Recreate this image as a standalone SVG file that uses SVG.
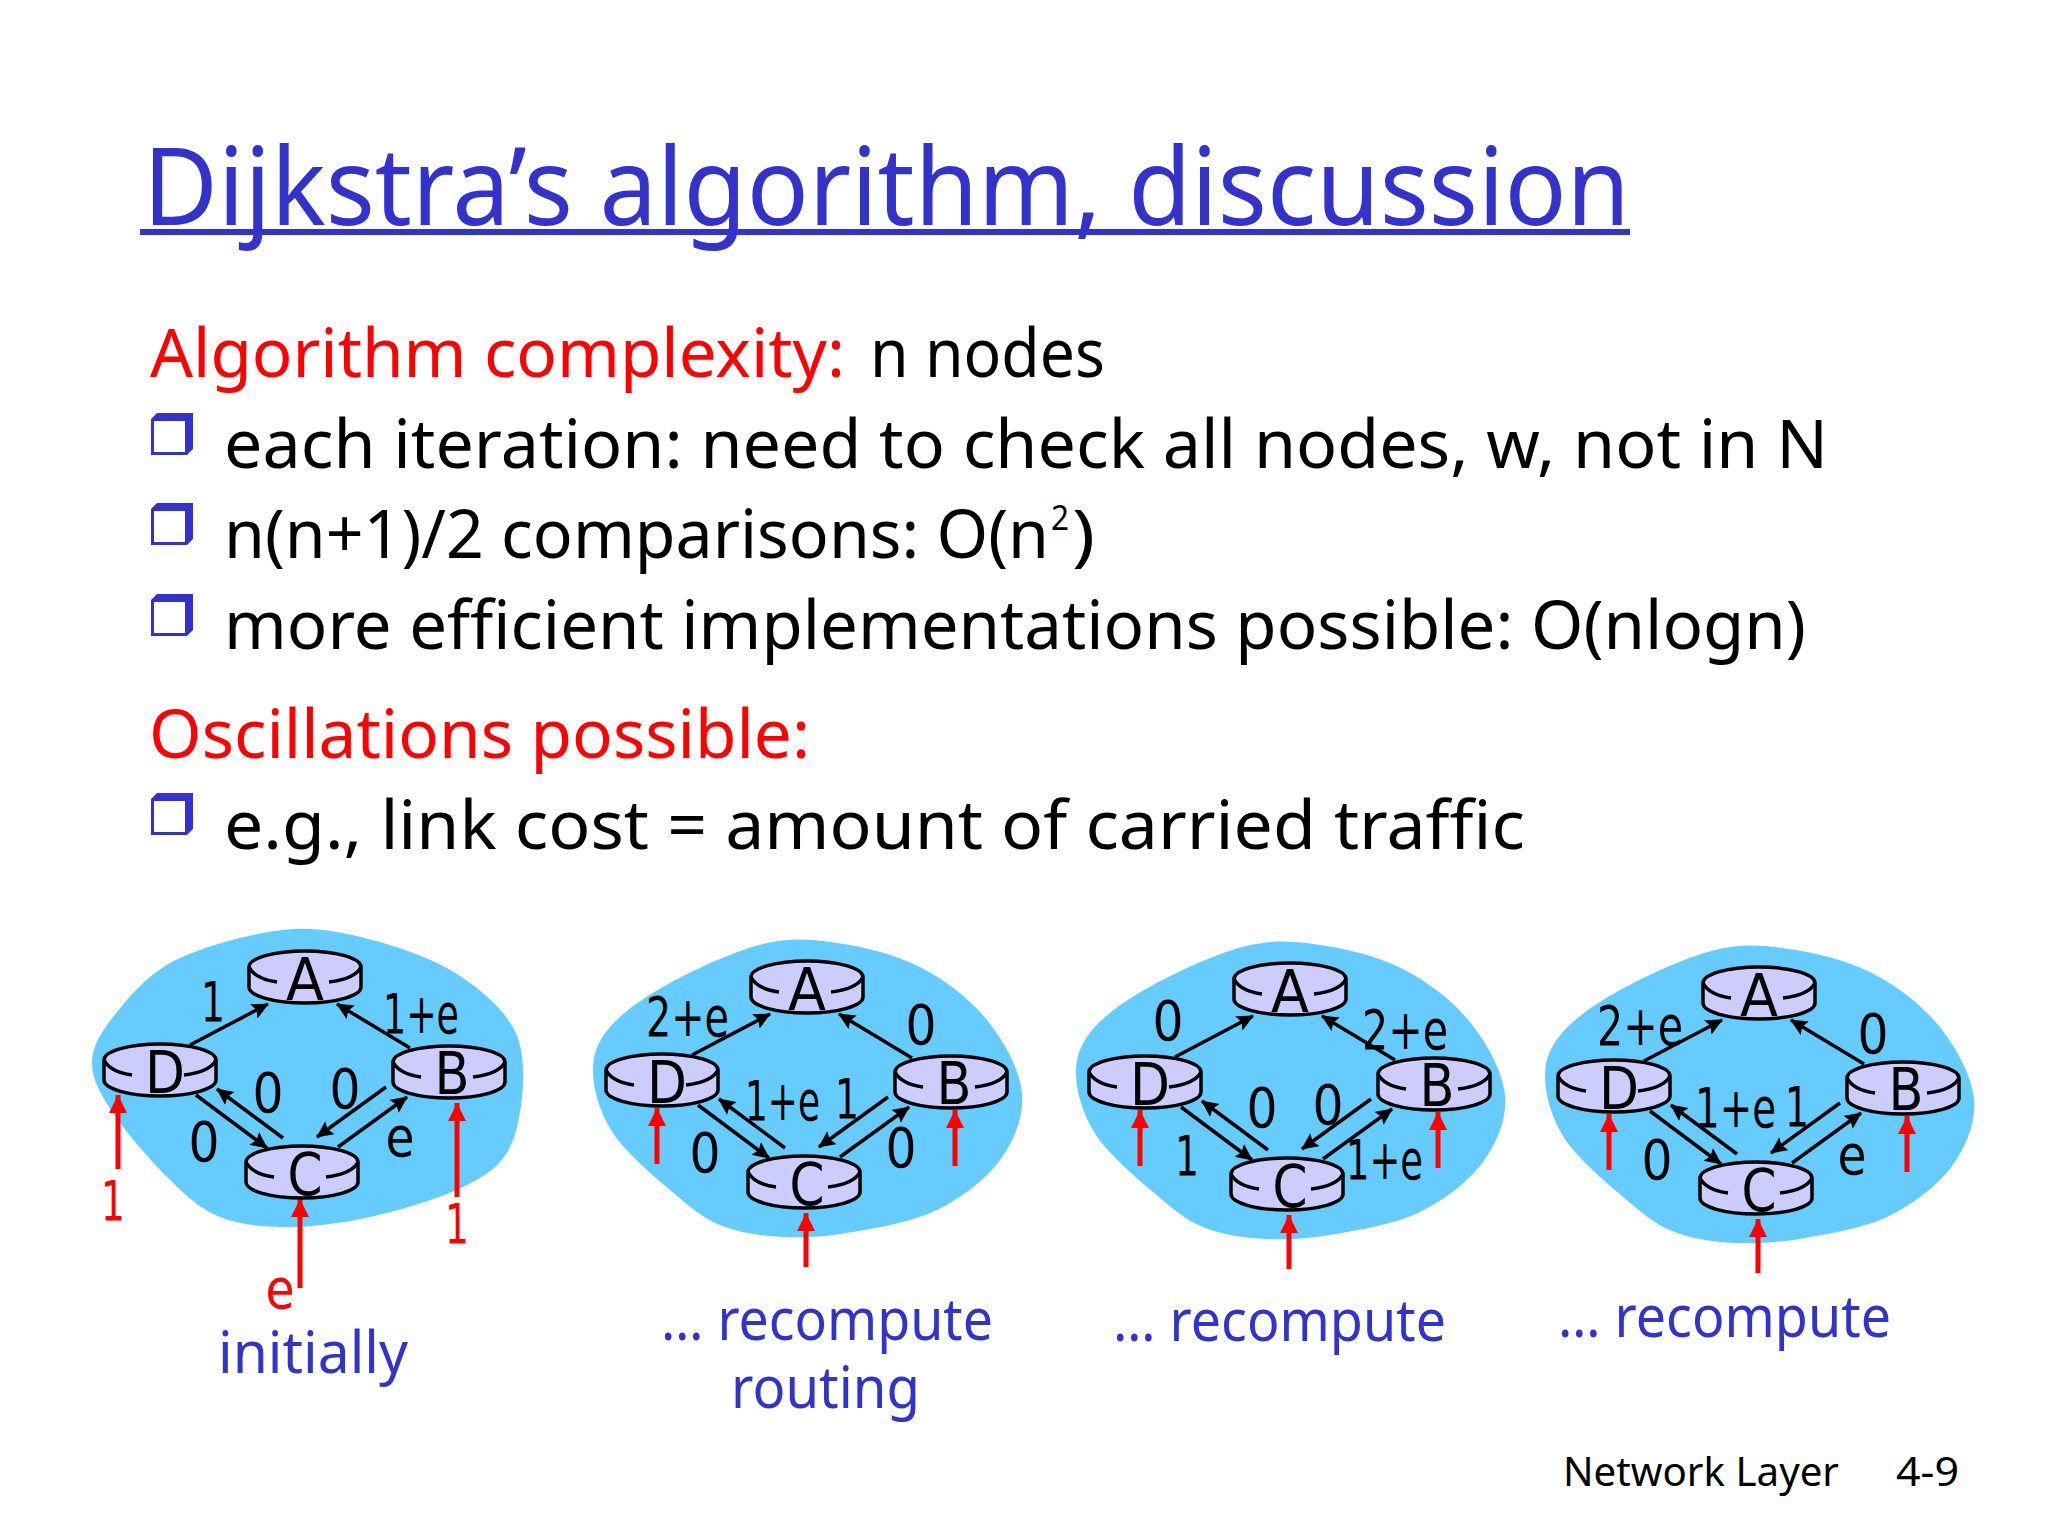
<svg xmlns="http://www.w3.org/2000/svg" width="2048" height="1536" viewBox="0 0 2048 1536">
<style>
text{font-family:"Noto Sans","Open Sans",sans-serif;}
.title{font-size:108px;fill:#3333cc;}
.body{font-size:68px;fill:#000;}
.cap{font-size:58px;fill:#3333cc;}
.foot{font-size:40px;fill:#000;}
.let{font-family:"DejaVu Sans",sans-serif;font-size:58px;fill:#000;text-anchor:middle;}
.lab{font-family:"DejaVu Sans",sans-serif;font-size:56px;fill:#000;}
.mid{text-anchor:middle;}
.red{fill:#ff0000;}
.blob{fill:#66ccff;}
.body-fill{fill:#ccccff;stroke:#000;stroke-width:3.5;}
.edge{stroke:#000;stroke-width:3.5;fill:none;marker-end:url(#ah);}
.req{stroke:#ff0000;stroke-width:5;fill:none;marker-end:url(#rh);}
.bul{fill:#3333cc;}
.buli{fill:#fff;}
</style>
<defs>
<marker id="ah" markerUnits="userSpaceOnUse" markerWidth="20" markerHeight="18" refX="16" refY="8" orient="auto"><path d="M0 0L17 8L0 16L3 8Z" fill="#000"/></marker>
<marker id="rh" markerUnits="userSpaceOnUse" markerWidth="20" markerHeight="20" refX="18" refY="9" orient="auto"><path d="M0 0L18 9L0 18Z" fill="#ff0000"/></marker>
<g id="router">
<path class="body-fill" d="M-56 16V36A56 16 0 0 0 56 36V16A56 16 0 0 0 -56 16Z"/>
<path fill="none" stroke="#000" stroke-width="3.5" d="M-56 16Q-50 28 -28 31M24 31Q50 28 56 16"/>
</g>
<g id="bullet"><path class="bul" d="M6 0H42V36L36 42H0V6Z"/><rect class="buli" x="3" y="8" width="31" height="31"/></g>
<path id="cloudB" class="blob" d="M763 944C790.8 937.3 810.8 939.2 837 943C863.2 946.8 895 954.2 920 967C945 979.8 970 999 987 1020C1004 1041 1019.8 1069.7 1022 1093C1024.2 1116.3 1014.2 1140.5 1000 1160C985.8 1179.5 961.5 1198 937 1210C912.5 1222 878.7 1227.5 853 1232C827.3 1236.5 805.2 1238.2 783 1237C760.8 1235.8 738.8 1232.8 720 1225C701.2 1217.2 687.8 1205.3 670 1190C652.2 1174.7 625.8 1152.5 613 1133C600.2 1113.5 593.5 1090.7 593 1073C592.5 1055.3 597.2 1042 610 1027C622.8 1012 644.5 996.8 670 983C695.5 969.2 735.2 950.7 763 944Z"/>
<g id="linkset">
<line class="edge" x1="190" y1="1045" x2="268" y2="1004"/><line class="edge" x1="410" y1="1048" x2="337" y2="1004"/><line class="edge" x1="283" y1="1138" x2="217" y2="1089"/><line class="edge" x1="196" y1="1095" x2="267" y2="1148"/><line class="edge" x1="386" y1="1087" x2="317" y2="1137"/><line class="edge" x1="338" y1="1147" x2="407" y2="1097"/>
</g>
<g id="reqset">
<line class="req" x1="155" y1="1154" x2="155" y2="1098"/><line class="req" x1="453" y1="1156" x2="453" y2="1100"/><line class="req" x1="304" y1="1257" x2="304" y2="1203"/>
</g>
</defs>
<rect width="2048" height="1536" fill="#fff"/>

<g id="title">
<text class="title" x="143" y="225" textLength="1487" lengthAdjust="spacingAndGlyphs">Dijkstra’s algorithm, discussion</text>
<rect x="140" y="229" width="1490" height="6" fill="#3333cc"/>
</g>
<g id="text-body">
<text class="body red" x="150" y="377" textLength="695" lengthAdjust="spacingAndGlyphs">Algorithm complexity:</text>
<text class="body" x="870" y="377" textLength="235" lengthAdjust="spacingAndGlyphs">n nodes</text>
<use href="#bullet" x="151" y="413"/>
<text class="body" x="224" y="468" textLength="1604" lengthAdjust="spacingAndGlyphs">each iteration: need to check all nodes, w, not in N</text>
<use href="#bullet" x="151" y="503"/>
<text class="body" x="224" y="558" textLength="825" lengthAdjust="spacingAndGlyphs">n(n+1)/2 comparisons: O(n</text>
<text class="body" x="1051" y="530" style="font-size:34px" textLength="18" lengthAdjust="spacingAndGlyphs">2</text>
<text class="body" x="1072" y="558" textLength="23" lengthAdjust="spacingAndGlyphs">)</text>
<use href="#bullet" x="151" y="594"/>
<text class="body" x="224" y="649" textLength="1582" lengthAdjust="spacingAndGlyphs">more efficient implementations possible: O(nlogn)</text>
<text class="body red" x="149" y="758" textLength="661" lengthAdjust="spacingAndGlyphs">Oscillations possible:</text>
<use href="#bullet" x="151" y="793"/>
<text class="body" x="224" y="849" textLength="1301" lengthAdjust="spacingAndGlyphs">e.g., link cost = amount of carried traffic</text>
</g>

<g id="clouds">
<path id="cloud1" class="blob" d="M263 933C290.8 927.8 308 927 337 932C366 937 409.3 949.5 437 963C464.7 976.5 488.7 995.7 503 1013C517.3 1030.3 521.8 1044.7 523 1067C524.2 1089.3 520 1127 510 1147C500 1167 486.3 1175.3 463 1187C439.7 1198.7 399.3 1210.3 370 1217C340.7 1223.7 312 1227 287 1227C262 1227 239.5 1224.8 220 1217C200.5 1209.2 187.8 1197.3 170 1180C152.2 1162.7 126 1132.5 113 1113C100 1093.5 92 1079 92 1063C92 1047 100 1033.7 113 1017C126 1000.3 145 977 170 963C195 949 235.2 938.2 263 933Z"/>
<use id="cloud2" href="#cloudB"/>
<use id="cloud3" href="#cloudB" x="483" y="2"/>
<use id="cloud4" href="#cloudB" x="952" y="6"/>
</g>

<g id="connectors">
<g id="links1">
<use href="#linkset"/>
<line class="req" x1="118" y1="1169" x2="118" y2="1095"/><line class="req" x1="457" y1="1197" x2="457" y2="1103"/><line class="req" x1="300" y1="1288" x2="300" y2="1199"/>
</g>
<g id="links2"><use href="#linkset" x="502" y="10"/><use href="#reqset" x="502" y="10"/></g>
<g id="links3"><use href="#linkset" x="985" y="12"/><use href="#reqset" x="985" y="12"/></g>
<g id="links4"><use href="#linkset" x="1454" y="16"/><use href="#reqset" x="1454" y="16"/></g>
</g>

<g id="A1"><use href="#router" x="305" y="951"/><text class="let" x="305" y="1000" textLength="38" lengthAdjust="spacingAndGlyphs">A</text></g>
<g id="D1"><use href="#router" x="160" y="1044"/><text class="let" x="165" y="1093" textLength="40" lengthAdjust="spacingAndGlyphs">D</text></g>
<g id="B1"><use href="#router" x="449" y="1046"/><text class="let" x="452" y="1094" textLength="35" lengthAdjust="spacingAndGlyphs">B</text></g>
<g id="C1"><use href="#router" x="302" y="1146"/><text class="let" x="305" y="1195" textLength="35" lengthAdjust="spacingAndGlyphs">C</text></g>

<g id="A2"><use href="#router" x="807" y="961"/><text class="let" x="807" y="1010" textLength="38" lengthAdjust="spacingAndGlyphs">A</text></g>
<g id="D2"><use href="#router" x="662" y="1054"/><text class="let" x="667" y="1103" textLength="40" lengthAdjust="spacingAndGlyphs">D</text></g>
<g id="B2"><use href="#router" x="951" y="1056"/><text class="let" x="954" y="1104" textLength="35" lengthAdjust="spacingAndGlyphs">B</text></g>
<g id="C2"><use href="#router" x="804" y="1156"/><text class="let" x="807" y="1205" textLength="35" lengthAdjust="spacingAndGlyphs">C</text></g>

<g id="A3"><use href="#router" x="1290" y="963"/><text class="let" x="1290" y="1012" textLength="38" lengthAdjust="spacingAndGlyphs">A</text></g>
<g id="D3"><use href="#router" x="1145" y="1056"/><text class="let" x="1150" y="1105" textLength="40" lengthAdjust="spacingAndGlyphs">D</text></g>
<g id="B3"><use href="#router" x="1434" y="1058"/><text class="let" x="1437" y="1106" textLength="35" lengthAdjust="spacingAndGlyphs">B</text></g>
<g id="C3"><use href="#router" x="1287" y="1158"/><text class="let" x="1290" y="1207" textLength="35" lengthAdjust="spacingAndGlyphs">C</text></g>

<g id="A4"><use href="#router" x="1759" y="967"/><text class="let" x="1759" y="1016" textLength="38" lengthAdjust="spacingAndGlyphs">A</text></g>
<g id="D4"><use href="#router" x="1614" y="1060"/><text class="let" x="1619" y="1109" textLength="40" lengthAdjust="spacingAndGlyphs">D</text></g>
<g id="B4"><use href="#router" x="1903" y="1062"/><text class="let" x="1906" y="1110" textLength="35" lengthAdjust="spacingAndGlyphs">B</text></g>
<g id="C4"><use href="#router" x="1756" y="1162"/><text class="let" x="1759" y="1211" textLength="35" lengthAdjust="spacingAndGlyphs">C</text></g>

<g id="labels">
<text class="lab mid" x="213" y="1021" textLength="24" lengthAdjust="spacingAndGlyphs">1</text>
<text class="lab" x="383" y="1033" textLength="76" lengthAdjust="spacingAndGlyphs">1+e</text>
<text class="lab mid" x="268" y="1112" textLength="31" lengthAdjust="spacingAndGlyphs">0</text>
<text class="lab mid" x="345" y="1108" textLength="31" lengthAdjust="spacingAndGlyphs">0</text>
<text class="lab mid" x="204" y="1161" textLength="31" lengthAdjust="spacingAndGlyphs">0</text>
<text class="lab mid" x="400" y="1156" textLength="29" lengthAdjust="spacingAndGlyphs">e</text>
<text class="lab mid red" x="113" y="1220" textLength="24" lengthAdjust="spacingAndGlyphs">1</text>
<text class="lab mid red" x="457" y="1243" textLength="24" lengthAdjust="spacingAndGlyphs">1</text>
<text class="lab mid red" x="280" y="1308" textLength="29" lengthAdjust="spacingAndGlyphs">e</text>

<text class="lab" x="646" y="1036" textLength="83" lengthAdjust="spacingAndGlyphs">2+e</text>
<text class="lab mid" x="921" y="1044" textLength="31" lengthAdjust="spacingAndGlyphs">0</text>
<text class="lab" x="745" y="1120" textLength="75" lengthAdjust="spacingAndGlyphs">1+e</text>
<text class="lab mid" x="847" y="1118" textLength="24" lengthAdjust="spacingAndGlyphs">1</text>
<text class="lab mid" x="705" y="1172" textLength="31" lengthAdjust="spacingAndGlyphs">0</text>
<text class="lab mid" x="901" y="1167" textLength="31" lengthAdjust="spacingAndGlyphs">0</text>

<text class="lab mid" x="1168" y="1040" textLength="31" lengthAdjust="spacingAndGlyphs">0</text>
<text class="lab" x="1362" y="1049" textLength="86" lengthAdjust="spacingAndGlyphs">2+e</text>
<text class="lab mid" x="1262" y="1127" textLength="31" lengthAdjust="spacingAndGlyphs">0</text>
<text class="lab mid" x="1328" y="1124" textLength="31" lengthAdjust="spacingAndGlyphs">0</text>
<text class="lab mid" x="1187" y="1175" textLength="24" lengthAdjust="spacingAndGlyphs">1</text>
<text class="lab" x="1346" y="1179" textLength="77" lengthAdjust="spacingAndGlyphs">1+e</text>

<text class="lab" x="1597" y="1045" textLength="86" lengthAdjust="spacingAndGlyphs">2+e</text>
<text class="lab mid" x="1873" y="1053" textLength="31" lengthAdjust="spacingAndGlyphs">0</text>
<text class="lab" x="1695" y="1127" textLength="81" lengthAdjust="spacingAndGlyphs">1+e</text>
<text class="lab mid" x="1797" y="1126" textLength="24" lengthAdjust="spacingAndGlyphs">1</text>
<text class="lab mid" x="1657" y="1179" textLength="31" lengthAdjust="spacingAndGlyphs">0</text>
<text class="lab mid" x="1852" y="1174" textLength="29" lengthAdjust="spacingAndGlyphs">e</text>
</g>

<g id="captions">
<text class="cap" x="218" y="1373" textLength="190" lengthAdjust="spacingAndGlyphs">initially</text>
<text class="cap" x="661" y="1340" textLength="332" lengthAdjust="spacingAndGlyphs">… recompute</text>
<text class="cap" x="731" y="1408" textLength="189" lengthAdjust="spacingAndGlyphs">routing</text>
<text class="cap" x="1113" y="1341" textLength="333" lengthAdjust="spacingAndGlyphs">… recompute</text>
<text class="cap" x="1558" y="1337" textLength="333" lengthAdjust="spacingAndGlyphs">… recompute</text>
</g>
<g id="footer">
<text class="foot" x="1563" y="1486" textLength="276" lengthAdjust="spacingAndGlyphs">Network Layer</text>
<text class="foot" x="1896" y="1486" textLength="63" lengthAdjust="spacingAndGlyphs">4-9</text>
</g>
</svg>
